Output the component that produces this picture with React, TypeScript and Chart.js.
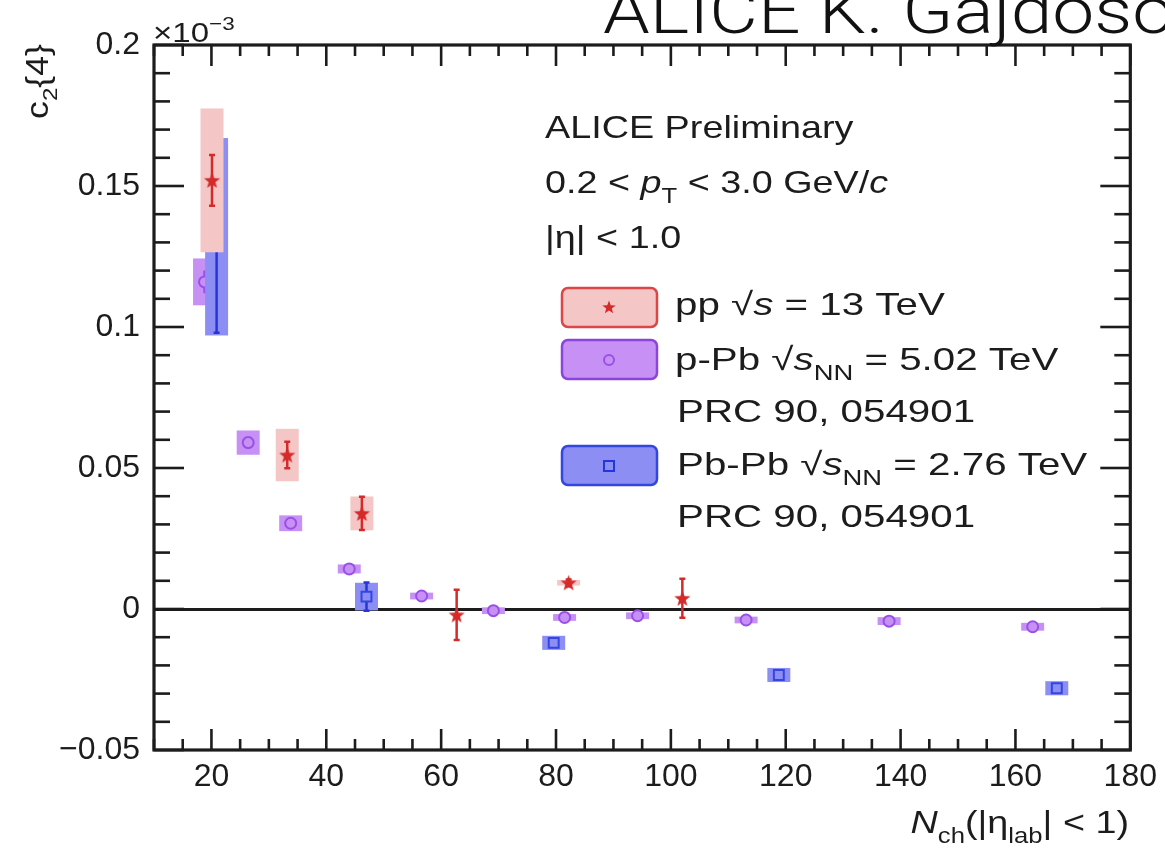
import React, { useEffect, useRef } from "react";
import { Chart, registerables } from "chart.js";

Chart.register(...registerables);

// ---------------- data (c2{4} in units of 1e-3) ----------------
const X_MIN = 10;
const X_MAX = 180;
const X_TICKS = [20, 40, 60, 80, 100, 120, 140, 160, 180];
const X_MINOR_STEP = 5;
const Y_MIN = -0.05;
const Y_MAX = 0.2;
const Y_TICKS = [-0.05, 0, 0.05, 0.1, 0.15, 0.2];
const Y_TICK_LABELS = ["\u22120.05", "0", "0.05", "0.1", "0.15", "0.2"];
const Y_MINOR_STEP = 0.01;

// pp sqrt(s) = 13 TeV
const PP_NCH = [20.1, 33.2, 46.2, 62.7, 82.2, 102.0];
const PP_C24 = [0.152, 0.0546, 0.0339, -0.0021, 0.0093, 0.0038];
const PP_STAT = [0.009, 0.0047, 0.0059, 0.0089, 0.0012, 0.0069];
const PP_SYST = [0.0255, 0.0093, 0.006, 0, 0.001, 0];

// p-Pb sqrt(sNN) = 5.02 TeV
const PPB_NCH = [18.8, 26.4, 33.8, 44.0, 56.6, 69.1, 81.5, 94.2, 113.1, 138.0, 163.0];
const PPB_C24 = [0.116, 0.059, 0.0304, 0.0142, 0.0046, -0.0006, -0.003, -0.0024, -0.0039, -0.0043, -0.0063];
const PPB_STAT = [0.004, 0.002, 0.0015, 0.0012, 0.001, 0.001, 0.001, 0.001, 0.001, 0.001, 0.001];
const PPB_SYST = [0.0083, 0.0043, 0.0028, 0.0016, 0.0012, 0.0012, 0.0012, 0.0012, 0.0012, 0.0014, 0.0014];

// Pb-Pb sqrt(sNN) = 2.76 TeV
const PBPB_NCH = [20.9, 47.0, 79.6, 118.8, 167.2];
const PBPB_C24 = [0.132, 0.0044, -0.012, -0.0234, -0.0281];
const PBPB_STAT = [0.034, 0.005, 0.001, 0.001, 0.001];
const PBPB_SYST = [0.035, 0.0049, 0.0025, 0.0025, 0.0025];

const SYST_HALF_WIDTH = 2; // in Nch units

// ---------------- style ----------------
const FONT = "'Liberation Sans', Arial, Helvetica, sans-serif";
const INK = "#1c1c1c";
const STRETCH = 1.18;
const LEG_STRETCH = 1.26;

const RED = "#d42a2a";
const RED_BOX = "#f4c6c6";
const RED_EDGE = "#dc4646";
const PURPLE = "#9a50e6";
const PURPLE_BOX = "#c690f4";
const PURPLE_EDGE = "#8d44dc";
const BLUE = "#2236dc";
const BLUE_BOX = "#8c8ef4";
const BLUE_EDGE = "#3346e2";

type Seg = { t: string; it?: boolean; sub?: boolean; sup?: boolean };

function drawRich(
  ctx: CanvasRenderingContext2D,
  segs: Seg[],
  x: number,
  y: number,
  size: number,
  align: "left" | "right" | "center" = "left",
  stretch = STRETCH,
  family = FONT,
  color = INK,
  weight = "normal"
) {
  ctx.save();
  ctx.translate(x, y);
  ctx.scale(stretch, 1);
  const parts = segs.map((s) => {
    const sz = s.sub || s.sup ? size * 0.68 : size;
    const font = `${s.it ? "italic " : ""}${weight} ${sz}px ${family}`;
    ctx.font = font;
    return { s, font, w: ctx.measureText(s.t).width };
  });
  const total = parts.reduce((a, p) => a + p.w, 0);
  let cx = align === "right" ? -total : align === "center" ? -total / 2 : 0;
  ctx.fillStyle = color;
  ctx.textAlign = "left";
  ctx.textBaseline = "alphabetic";
  for (const p of parts) {
    ctx.font = p.font;
    const dy = p.s.sub ? size * 0.3 : p.s.sup ? -size * 0.42 : 0;
    ctx.fillText(p.s.t, cx, dy);
    cx += p.w;
  }
  ctx.restore();
}

function makeStar(r: number, color: string): HTMLCanvasElement {
  const c = document.createElement("canvas");
  const s = Math.ceil(r * 2 + 2);
  c.width = s;
  c.height = s;
  const g = c.getContext("2d")!;
  g.fillStyle = color;
  g.beginPath();
  for (let i = 0; i < 10; i++) {
    const rad = i % 2 === 0 ? r : r * 0.42;
    const a = -Math.PI / 2 + (i * Math.PI) / 5;
    const px = s / 2 + rad * Math.cos(a);
    const py = s / 2 + rad * Math.sin(a) + r * 0.08;
    if (i === 0) g.moveTo(px, py);
    else g.lineTo(px, py);
  }
  g.closePath();
  g.fill();
  return c;
}

// index matches dataset index: 0 pp, 1 Pb-Pb, 2 p-Pb
const SERIES_DRAW = [
  { nch: PP_NCH, val: PP_C24, stat: PP_STAT, syst: PP_SYST, box: RED_BOX, bar: RED, cap: 3 },
  { nch: PBPB_NCH, val: PBPB_C24, stat: PBPB_STAT, syst: PBPB_SYST, box: BLUE_BOX, bar: BLUE, cap: 3 },
  { nch: PPB_NCH, val: PPB_C24, stat: PPB_STAT, syst: PPB_SYST, box: PURPLE_BOX, bar: PURPLE, cap: 0 },
];

const errorPlugin = {
  id: "errorBoxes",
  beforeDatasetDraw(chart: any, args: any) {
    const s = SERIES_DRAW[args.index];
    if (!s) return;
    const { ctx, chartArea: a, scales } = chart;
    const xs = scales.x;
    const ys = scales.y;
    ctx.save();
    ctx.beginPath();
    ctx.rect(a.left, a.top, a.right - a.left, a.bottom - a.top);
    ctx.clip();
    for (let i = 0; i < s.nch.length; i++) {
      if (!(s.syst[i] > 0)) continue;
      const x0 = xs.getPixelForValue(s.nch[i] - SYST_HALF_WIDTH);
      const x1 = xs.getPixelForValue(s.nch[i] + SYST_HALF_WIDTH);
      const y0 = ys.getPixelForValue(s.val[i] + s.syst[i]);
      const y1 = ys.getPixelForValue(s.val[i] - s.syst[i]);
      ctx.fillStyle = s.box;
      ctx.fillRect(x0, y0, x1 - x0, y1 - y0);
    }
    for (let i = 0; i < s.nch.length; i++) {
      const px = xs.getPixelForValue(s.nch[i]);
      const yt = ys.getPixelForValue(s.val[i] + s.stat[i]);
      const yb = ys.getPixelForValue(s.val[i] - s.stat[i]);
      ctx.strokeStyle = s.bar;
      ctx.lineWidth = 2.5;
      ctx.beginPath();
      ctx.moveTo(px, yt);
      ctx.lineTo(px, yb);
      if (s.cap > 0) {
        ctx.moveTo(px - s.cap, yt);
        ctx.lineTo(px + s.cap, yt);
        ctx.moveTo(px - s.cap, yb);
        ctx.lineTo(px + s.cap, yb);
      }
      ctx.stroke();
    }
    ctx.restore();
  },
};

const framePlugin = {
  id: "rootFrame",
  afterDatasetsDraw(chart: any) {
    const { ctx, chartArea: a, scales } = chart;
    const xs = scales.x;
    const ys = scales.y;
    ctx.save();
    ctx.strokeStyle = INK;
    ctx.lineWidth = 2.6;
    ctx.lineCap = "butt";
    const seg = (x1: number, y1: number, x2: number, y2: number) => {
      ctx.beginPath();
      ctx.moveTo(x1, y1);
      ctx.lineTo(x2, y2);
      ctx.stroke();
    };
    // x ticks (bottom + top)
    const nX = Math.round((X_MAX - X_MIN) / X_MINOR_STEP);
    for (let i = 0; i <= nX; i++) {
      const v = X_MIN + i * X_MINOR_STEP;
      const px = xs.getPixelForValue(v);
      const major = X_TICKS.some((t) => Math.abs(t - v) < 1e-9);
      const L = major ? 21 : 11;
      seg(px, a.bottom, px, a.bottom - L);
      seg(px, a.top, px, a.top + L);
    }
    // y ticks (left + right)
    const nY = Math.round((Y_MAX - Y_MIN) / Y_MINOR_STEP);
    for (let i = 0; i <= nY; i++) {
      const v = Y_MIN + i * Y_MINOR_STEP;
      const py = ys.getPixelForValue(v);
      const major = Y_TICKS.some((t) => Math.abs(t - v) < 1e-9);
      const L = major ? 30 : 16;
      seg(a.left, py, a.left + L, py);
      seg(a.right, py, a.right - L, py);
    }
    ctx.lineWidth = 3.2;
    ctx.strokeRect(a.left, a.top, a.right - a.left, a.bottom - a.top);
    ctx.restore();

    // ---- texts ----
    drawRich(ctx, [{ t: "\u00d710" }, { t: "\u22123", sup: true }], a.left - 1, 42, 28);
    ctx.save();
    ctx.translate(48, 44);
    ctx.rotate(-Math.PI / 2);
    drawRich(ctx, [{ t: "c" }, { t: "2", sub: true }, { t: "{4}" }], 0, 0, 31, "right", 1.15);
    ctx.restore();
    drawRich(
      ctx,
      [
        { t: "N", it: true },
        { t: "ch", sub: true },
        { t: "(|\u03b7" },
        { t: "lab", sub: true },
        { t: "| < 1)" },
      ],
      1129,
      833,
      32,
      "right"
    );
    // info block
    drawRich(ctx, [{ t: "ALICE Preliminary" }], 545, 138, 32);
    drawRich(
      ctx,
      [{ t: "0.2 < " }, { t: "p", it: true }, { t: "T", sub: true }, { t: " < 3.0 GeV/" }, { t: "c", it: true }],
      545,
      193,
      32
    );
    drawRich(ctx, [{ t: "|\u03b7| < 1.0" }], 545, 248, 32);

    // legend
    const boxes = [
      { y: 288, fill: RED_BOX, edge: RED_EDGE },
      { y: 340, fill: PURPLE_BOX, edge: PURPLE_EDGE },
      { y: 446, fill: BLUE_BOX, edge: BLUE_EDGE },
    ];
    ctx.save();
    for (const b of boxes) {
      ctx.beginPath();
      (ctx as any).roundRect(562, b.y, 95, 39, 6);
      ctx.fillStyle = b.fill;
      ctx.fill();
      ctx.lineWidth = 2.5;
      ctx.strokeStyle = b.edge;
      ctx.stroke();
    }
    const legStar = makeStar(7, RED);
    ctx.drawImage(legStar, 609 - legStar.width / 2, 307 - legStar.height / 2);
    ctx.beginPath();
    ctx.arc(609, 360, 5, 0, Math.PI * 2);
    ctx.lineWidth = 2;
    ctx.strokeStyle = PURPLE;
    ctx.stroke();
    ctx.strokeStyle = BLUE;
    ctx.strokeRect(604, 461, 10, 10);
    ctx.restore();

    drawRich(ctx, [{ t: "pp " }, { t: "\u221a" }, { t: "s", it: true }, { t: " = 13 TeV" }], 675, 315, 32, "left", LEG_STRETCH);
    drawRich(
      ctx,
      [{ t: "p-Pb " }, { t: "\u221a" }, { t: "s", it: true }, { t: "NN", sub: true }, { t: " = 5.02 TeV" }],
      675,
      370,
      32,
      "left",
      LEG_STRETCH
    );
    drawRich(ctx, [{ t: "PRC 90, 054901" }], 677, 422, 32, "left", LEG_STRETCH);
    drawRich(
      ctx,
      [{ t: "Pb-Pb " }, { t: "\u221a" }, { t: "s", it: true }, { t: "NN", sub: true }, { t: " = 2.76 TeV" }],
      677,
      475,
      32,
      "left",
      LEG_STRETCH
    );
    drawRich(ctx, [{ t: "PRC 90, 054901" }], 677, 527, 32, "left", LEG_STRETCH);

    // header
    drawRich(ctx, [{ t: "ALICE K. Gajdoso" }], 603, 33, 64, "left", 1.17, "Roboto, 'Open Sans', sans-serif", "#111", "300");
  },
};

export default function App() {
  const ref = useRef<HTMLCanvasElement | null>(null);
  useEffect(() => {
    if (!ref.current) return;
    const star = makeStar(8.5, RED);
    const chart = new Chart(ref.current, {
      type: "scatter",
      data: {
        datasets: [
          {
            label: "pp",
            data: PP_NCH.map((x, i) => ({ x, y: PP_C24[i] })),
            pointStyle: star as any,
            pointRadius: 8,
            order: 0,
          },
          {
            label: "Pb-Pb",
            data: PBPB_NCH.map((x, i) => ({ x, y: PBPB_C24[i] })),
            pointStyle: "rect",
            pointRadius: 7,
            pointBorderWidth: 2,
            borderColor: BLUE_EDGE,
            backgroundColor: BLUE_BOX,
            order: 1,
          },
          {
            label: "p-Pb",
            data: PPB_NCH.map((x, i) => ({ x, y: PPB_C24[i] })),
            pointStyle: "circle",
            pointRadius: 5.5,
            pointBorderWidth: 2,
            borderColor: PURPLE,
            backgroundColor: PURPLE_BOX,
            order: 2,
          },
        ],
      },
      options: {
        animation: false,
        responsive: false,
        devicePixelRatio: 1,
        layout: { padding: { top: 45, right: 34, bottom: 0, left: 0 } },
        plugins: { legend: { display: false }, tooltip: { enabled: false } },
        scales: {
          x: {
            type: "linear",
            min: X_MIN,
            max: X_MAX,
            afterBuildTicks: (s: any) => {
              s.ticks = X_TICKS.map((v) => ({ value: v }));
            },
            afterFit: (s: any) => {
              s.height = 106;
            },
            grid: { display: false, drawTicks: false },
            border: { display: false },
            ticks: {
              autoSkip: false,
              maxRotation: 0,
              padding: 8,
              color: INK,
              font: { family: FONT, size: 32 },
              callback: (v: any) => String(v),
            },
          },
          y: {
            type: "linear",
            min: Y_MIN,
            max: Y_MAX,
            afterBuildTicks: (s: any) => {
              s.ticks = Y_TICKS.map((v) => ({ value: v }));
            },
            afterFit: (s: any) => {
              s.width = 154;
            },
            grid: {
              drawTicks: false,
              lineWidth: 3,
              color: (c: any) => (c.tick && Math.abs(c.tick.value) < 1e-9 ? INK : "rgba(0,0,0,0)"),
            },
            border: { display: false },
            ticks: {
              padding: 14,
              color: INK,
              font: { family: FONT, size: 32 },
              callback: (v: any) => {
                const i = Y_TICKS.findIndex((t) => Math.abs(t - v) < 1e-9);
                return i >= 0 ? Y_TICK_LABELS[i] : "";
              },
            },
          },
        },
      },
      plugins: [errorPlugin, framePlugin],
    });
    return () => chart.destroy();
  }, []);
  return (
    <div style={{ position: "absolute", left: 0, top: 0, width: 1165, height: 856, background: "#fff" }}>
      <canvas ref={ref} width={1165} height={856} style={{ display: "block", width: 1165, height: 856 }} />
    </div>
  );
}
